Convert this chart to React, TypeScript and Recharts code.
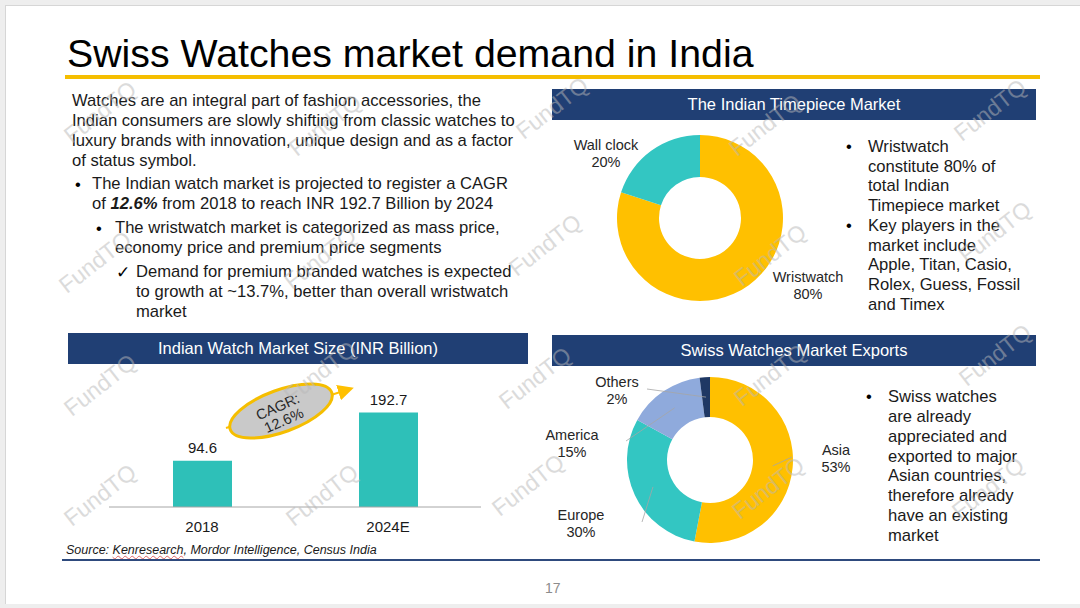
import React from "react";
import {
  PieChart,
  Pie,
  Cell,
  BarChart,
  Bar,
  XAxis,
  YAxis,
  LabelList,
} from "recharts";

// chart data
const timepieceNames = ["Wristwatch", "Wall clock"];
const timepieceShares = [80, 20];

const exportRegions = ["Asia", "Europe", "America", "Others"];
const exportShares = [53, 30, 15, 2];

const marketYears = ["2018", "2024E"];
const marketSize = [94.6, 192.7];

const FONT = '"Liberation Sans", Arial, sans-serif';
const NAVY = "#203f74";
const YELLOW = "#ffc000";
const TEAL = "#33c6c2";
const BAR_TEAL = "#2ec0b8";
const LIGHT_BLUE = "#8faadc";
const DARK_NAVY = "#1f3864";

const timepieceData = timepieceNames.map((name, i) => ({
  name,
  value: timepieceShares[i],
}));
const exportData = exportRegions.map((name, i) => ({
  name,
  value: exportShares[i],
}));
const marketData = marketYears.map((year, i) => ({
  year,
  size: marketSize[i],
}));

// label placement, relative to the pie centre
const timepieceSpots: Record<string, { at: number[]; lead?: number[] }> = {
  Wristwatch: { at: [108, 67] },
  "Wall clock": { at: [-94, -65] },
};
const exportSpots: Record<string, { at: number[]; lead?: number[] }> = {
  Asia: { at: [126, -2], lead: [82, -3] },
  Europe: { at: [-129, 63], lead: [-68, 62] },
  America: { at: [-138, -17], lead: [-84, -19] },
  Others: { at: [-93, -70], lead: [-63, -71] },
};

const watermarks = [
  [100, 112], [325, 125], [552, 108], [765, 125], [990, 110],
  [95, 262], [320, 258], [545, 245], [770, 255], [995, 232],
  [100, 385], [320, 372], [535, 378], [770, 375], [995, 355],
  [100, 495], [322, 495], [528, 485], [768, 488], [988, 488],
];

const noMargin = { top: 0, right: 0, bottom: 0, left: 0 };

const makePieLabel =
  (spots: Record<string, { at: number[]; lead?: number[] }>) => (props: any) => {
    const { cx, cy, midAngle, innerRadius, outerRadius, name, percent } = props;
    const spot = spots[name];
    if (!spot) return null;
    const x = cx + spot.at[0];
    const y = cy + spot.at[1];
    const r = (innerRadius + outerRadius) / 2;
    const rad = (-midAngle * Math.PI) / 180;
    const sx = cx + r * Math.cos(rad);
    const sy = cy + r * Math.sin(rad);
    return (
      <g>
        {spot.lead && (
          <line
            x1={sx}
            y1={sy}
            x2={cx + spot.lead[0]}
            y2={cy + spot.lead[1]}
            stroke="#a6a6a6"
            strokeWidth={0.8}
          />
        )}
        <text
          x={x}
          y={y - 8}
          textAnchor="middle"
          dominantBaseline="central"
          fontSize={14.5}
          fill="#262626"
          fontFamily={FONT}
        >
          {name}
        </text>
        <text
          x={x}
          y={y + 9}
          textAnchor="middle"
          dominantBaseline="central"
          fontSize={14.5}
          fill="#262626"
          fontFamily={FONT}
        >
          {`${Math.round(percent * 100)}%`}
        </text>
      </g>
    );
  };

const abs = (left: number, top: number, extra: React.CSSProperties = {}) =>
  ({ position: "absolute", left, top, ...extra }) as React.CSSProperties;

const Header: React.FC<{ left: number; top: number; width: number; text: string }> = ({
  left,
  top,
  width,
  text,
}) => (
  <div
    style={abs(left, top, {
      width,
      height: 31,
      background: NAVY,
      color: "#fff",
      fontSize: 16.5,
      lineHeight: "31px",
      textAlign: "center",
    })}
  >
    {text}
  </div>
);

const TextLines: React.FC<{
  left: number;
  top: number;
  lines: React.ReactNode[];
  lineHeight?: number;
  marker?: string;
  markerLeft?: number;
}> = ({ left, top, lines, lineHeight = 20, marker, markerLeft }) => (
  <>
    {marker && (
      <div style={abs(markerLeft ?? left - 16, top, { lineHeight: `${lineHeight}px`, fontSize: 16.5 })}>
        {marker}
      </div>
    )}
    <div
      style={abs(left, top, {
        fontSize: 16.6,
        lineHeight: `${lineHeight}px`,
        whiteSpace: "nowrap",
        color: "#1a1a1a",
      })}
    >
      {lines.map((l, i) => (
        <div key={i}>{l}</div>
      ))}
    </div>
  </>
);

const App: React.FC = () => {
  return (
    <div
      style={abs(0, 0, {
        width: 1080,
        height: 608,
        background: "#eeeeee",
        fontFamily: FONT,
        overflow: "hidden",
      })}
    >
      <div
        style={abs(5, 5, {
          width: 1080,
          height: 598,
          background: "#fff",
          borderTop: "1px solid #d6d6d6",
          borderLeft: "1px solid #d6d6d6",
        })}
      />

      {/* title */}
      <div style={abs(67, 31, { fontSize: 39.3, lineHeight: "44px", color: "#000", whiteSpace: "nowrap" })}>
        Swiss Watches market demand in India
      </div>
      <div style={abs(65, 75, { width: 975, height: 4, background: "#f5be00" })} />

      {/* left text */}
      <TextLines
        left={72}
        top={91}
        lines={[
          "Watches are an integral part of fashion accessories, the",
          "Indian consumers are slowly shifting from classic watches to",
          "luxury brands with innovation, unique design and as a factor",
          "of status symbol.",
        ]}
      />
      <TextLines
        left={92}
        top={174}
        marker="•"
        markerLeft={75}
        lines={[
          "The Indian watch market is projected to register a CAGR",
          <span>
            of <b><i>12.6%</i></b> from 2018 to reach INR 192.7 Billion by 2024
          </span>,
        ]}
      />
      <TextLines
        left={115}
        top={218}
        marker="•"
        markerLeft={96}
        lines={[
          "The wristwatch market is categorized as mass price,",
          "economy price and premium price segments",
        ]}
      />
      <TextLines
        left={136}
        top={262}
        marker="✓"
        markerLeft={116}
        lines={[
          "Demand for premium branded watches is expected",
          "to growth at ~13.7%, better than overall wristwatch",
          "market",
        ]}
      />

      {/* headers */}
      <Header left={552} top={89} width={484} text="The Indian Timepiece Market" />
      <Header left={68} top={333} width={460} text="Indian Watch Market Size (INR Billion)" />
      <Header left={552} top={335} width={484} text="Swiss Watches Market Exports" />

      {/* timepiece donut */}
      <div style={abs(560, 125)}>
        <PieChart width={290} height={190} margin={noMargin}>
          <Pie
            data={timepieceData}
            dataKey="value"
            nameKey="name"
            cx={140}
            cy={93}
            innerRadius={41}
            outerRadius={83}
            startAngle={90}
            endAngle={-270}
            stroke="none"
            labelLine={false}
            label={makePieLabel(timepieceSpots)}
            isAnimationActive={false}
          >
            {timepieceData.map((_, i) => (
              <Cell key={i} fill={[YELLOW, TEAL][i]} />
            ))}
          </Pie>
        </PieChart>
      </div>
      <TextLines
        left={868}
        top={137}
        lineHeight={19.7}
        lines={[
          "Wristwatch",
          "constitute 80% of",
          "total Indian",
          "Timepiece market",
          "Key players in the",
          "market include",
          "Apple, Titan, Casio,",
          "Rolex, Guess, Fossil",
          "and Timex",
        ]}
      />
      <div style={abs(846, 137, { fontSize: 16.5, lineHeight: "19.7px" })}>•</div>
      <div style={abs(846, 216, { fontSize: 16.5, lineHeight: "19.7px" })}>•</div>

      {/* market size bars */}
      <div style={abs(68, 370)}>
        <BarChart
          width={460}
          height={180}
          data={marketData}
          margin={{ top: 39, right: 47, left: 41, bottom: 13 }}
          barCategoryGap={0}
        >
          <XAxis
            dataKey="year"
            axisLine={{ stroke: "#a6a6a6" }}
            tickLine={false}
            tickMargin={8}
            height={30}
            tick={{ fill: "#1a1a1a", fontSize: 15, fontFamily: FONT }}
          />
          <YAxis hide domain={[0, 200]} />
          <Bar dataKey="size" fill={BAR_TEAL} barSize={59} isAnimationActive={false}>
            <LabelList
              dataKey="size"
              position="top"
              offset={8}
              fill="#1a1a1a"
              fontSize={15}
              fontFamily={FONT}
            />
          </Bar>
        </BarChart>
      </div>

      {/* CAGR callout */}
      <svg style={abs(0, 0, { pointerEvents: "none" })} width={1080} height={608}>
        <defs>
          <marker id="arrowhead" markerWidth="8" markerHeight="8" refX="6" refY="4" orient="auto">
            <path d="M0,0 L8,4 L0,8 z" fill={YELLOW} />
          </marker>
        </defs>
        <line x1={226} y1={428} x2={350} y2={389} stroke={YELLOW} strokeWidth={2} markerEnd="url(#arrowhead)" />
        <ellipse
          cx={281}
          cy={411}
          rx={54}
          ry={21}
          transform="rotate(-20 281 411)"
          fill="#c9c9c9"
          stroke="#f5be00"
          strokeWidth={3}
        />
        <g transform="rotate(-24 281 414)" fontFamily={FONT} fontSize={14.5} fill="#262626" textAnchor="middle">
          <text x={281} y={411}>CAGR:</text>
          <text x={281} y={426}>12.6%</text>
        </g>
      </svg>

      {/* exports donut */}
      <div style={abs(530, 365)}>
        <PieChart width={340} height={195} margin={noMargin}>
          <Pie
            data={exportData}
            dataKey="value"
            nameKey="name"
            cx={180}
            cy={95}
            innerRadius={43}
            outerRadius={83}
            startAngle={90}
            endAngle={-270}
            stroke="none"
            labelLine={false}
            label={makePieLabel(exportSpots)}
            isAnimationActive={false}
          >
            {exportData.map((_, i) => (
              <Cell key={i} fill={[YELLOW, TEAL, LIGHT_BLUE, DARK_NAVY][i]} />
            ))}
          </Pie>
        </PieChart>
      </div>
      <TextLines
        left={888}
        top={387}
        lineHeight={19.85}
        lines={[
          "Swiss watches",
          "are already",
          "appreciated and",
          "exported to major",
          "Asian countries,",
          "therefore already",
          "have an existing",
          "market",
        ]}
      />
      <div style={abs(866, 387, { fontSize: 16.5, lineHeight: "19.85px" })}>•</div>

      {/* source and footer */}
      <div style={abs(66, 542, { fontSize: 12.5, fontStyle: "italic", color: "#1a1a1a", whiteSpace: "nowrap", lineHeight: "16px" })}>
        Source:{" "}
        <span style={{ textDecoration: "underline wavy #e06666", textDecorationThickness: 1 }}>Kenresearch</span>, Mordor
        Intelligence, Census India
      </div>
      <div style={abs(62, 559, { width: 978, height: 2, background: "#2e4a7d" })} />
      <div style={abs(545, 579, { fontSize: 14, color: "#8c8c8c", lineHeight: "18px" })}>17</div>

      {/* watermarks */}
      <svg style={abs(0, 0, { pointerEvents: "none" })} width={1080} height={608}>
        {watermarks.map(([x, y], i) => (
          <text
            key={i}
            x={x}
            y={y}
            transform={`rotate(-38 ${x} ${y})`}
            textAnchor="middle"
            dominantBaseline="central"
            fontFamily={FONT}
            fontSize={23}
            fill="#b8b8b8"
            opacity={0.5}
          >
            FundTQ
          </text>
        ))}
      </svg>
    </div>
  );
};

export default App;
